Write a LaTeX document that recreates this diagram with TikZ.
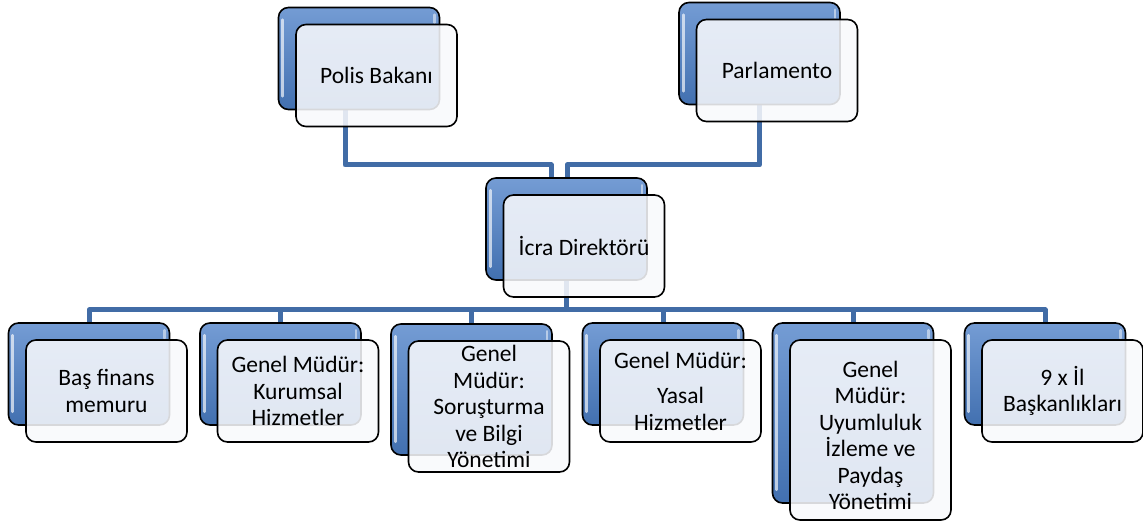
\documentclass[tikz,border=0pt]{standalone}
\usepackage{fontspec}
\setmainfont{Carlito}
\usetikzlibrary{calc}

\definecolor{linkblue}{RGB}{65,108,166}
\definecolor{boxtop}{RGB}{116,156,212}
\definecolor{boxbot}{RGB}{66,112,176}
\definecolor{facefill}{RGB}{248,249,252}

\pgfdeclarelayer{background}
\pgfsetlayers{background,main}

\tikzset{
  link/.style={draw=linkblue, line width=5pt, line join=round},
  backbox/.style={draw=black, line width=1.6pt, rounded corners=10pt,
    top color=boxtop, bottom color=boxbot, minimum width=161pt, inner sep=0pt},
  gloss/.style={draw=white, draw opacity=0.65, line width=2.6pt, line cap=round},
  facebox/.style={draw=black, line width=1.6pt, rounded corners=10pt,
    fill=facefill, fill opacity=0.87, text opacity=1, minimum width=161pt,
    inner sep=0pt, align=flush center, text width=150pt,
    font=\fontsize{23.5}{26.5}\selectfont},
}

% one unit: shaded back card plus the translucent front card carrying the text
% #1 name, #2/#3 centre of the back card, #4 height, #5 text
\newcommand\OrgUnit[5]{%
  \node[backbox, minimum height=#4pt] (#1-bk) at (#2,#3) {};
  \draw[gloss] ($(#1-bk.north west)+(5pt,-13pt)$) -- ($(#1-bk.south west)+(5pt,14pt)$);
  \draw[gloss, draw opacity=0.5] ($(#1-bk.north east)+(-6pt,-8pt)$) -- ($(#1-bk.north east)+(-6pt,-16pt)$);
  \node[facebox, minimum height=#4pt] (#1) at ($(#1-bk.center)+(17.5pt,-17pt)$) {#5};
}

\begin{document}
\begin{tikzpicture}[x=1pt, y=-1pt]
  \useasboundingbox (0,0) rectangle (1143,526);

  % top level
  \OrgUnit{pol}{359}{58.5}{102}{Polis Bakanı}
  \OrgUnit{par}{759.5}{53.5}{102}{Parlamento}
  \OrgUnit{icr}{566.5}{229}{102}{İcra Direktörü}

  % bottom row
  \OrgUnit{fin}{89}{374}{102}{Baş finans\\memuru}
  \OrgUnit{kur}{280.5}{374}{102}{Genel Müdür:\\Kurumsal\\Hizmetler}
  \OrgUnit{sor}{471.5}{389.5}{131}{Genel\\Müdür:\\Soruşturma\\ve Bilgi\\Yönetimi}
  \OrgUnit{yas}{663}{374}{102}{Genel Müdür:\\[9pt]Yasal\\Hizmetler}
  \OrgUnit{uyu}{853}{413}{180}{\rule{0pt}{27pt}Genel\\Müdür:\\Uyumluluk\\İzleme ve\\Paydaş\\Yönetimi}
  \OrgUnit{il}{1045}{374}{102}{9 x İl\\Başkanlıkları}

  % connectors, kept behind the cards
  \begin{pgfonlayer}{background}
    \coordinate (jl) at (551,165);
    \coordinate (jr) at (567,165);
    \coordinate (bus) at (0,310);
    \draw[link] ($(pol-bk.center)+(-14pt,0pt)$) |- (jl) -- (jl |- icr-bk.center);
    \draw[link] (par-bk.center) |- (jr) -- (jr |- icr-bk.center);
    \draw[link] (icr-bk.center) -- (icr-bk.center |- bus);
    \draw[link] (fin-bk.center) -- (fin-bk.center |- bus) -- (il-bk.center |- bus) -- (il-bk.center);
    \foreach \nm in {kur,sor,yas,uyu}
      \draw[link] (\nm-bk.center |- bus) -- (\nm-bk.center);
  \end{pgfonlayer}
\end{tikzpicture}
\end{document}
